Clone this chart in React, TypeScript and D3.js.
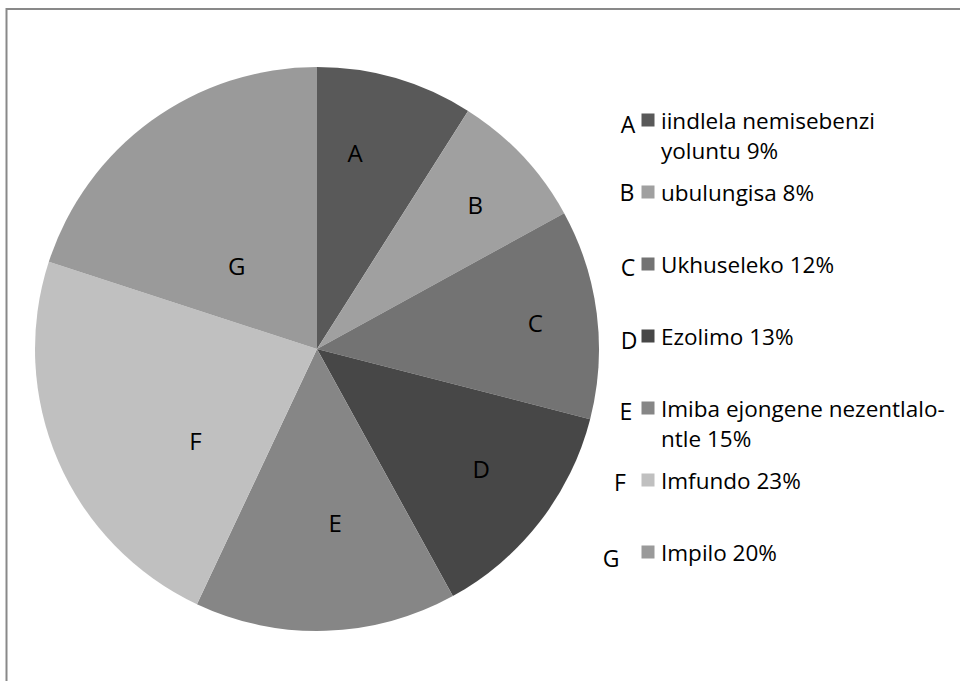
import React from "react";
import * as d3 from "d3";

const letters = ["A", "B", "C", "D", "E", "F", "G"];
const names = [
  ["iindlela nemisebenzi", "yoluntu 9%"],
  ["ubulungisa 8%"],
  ["Ukhuseleko 12%"],
  ["Ezolimo 13%"],
  ["Imiba ejongene nezentlalo-", "ntle 15%"],
  ["Imfundo 23%"],
  ["Impilo 20%"],
];
const values = [9, 8, 12, 13, 15, 23, 20];
const colors = ["#595959", "#a0a0a0", "#737373", "#474747", "#868686", "#c0c0c0", "#9a9a9a"];

// label placement (polar: degrees clockwise from 12 o'clock, radius fraction)
const labelPolar: [number, number][] = [
  [11, 0.71], [47.6, 0.76], [83, 0.78], [126, 0.72], [174, 0.62], [233, 0.54], [316, 0.41],
];
// legend letter centres relative to swatch centre (dx, dy)
const letterOffset: [number, number][] = [
  [-20, 4], [-21, 0], [-20, 3], [-19, 4], [-22, 3], [-28, 2], [-37, 6],
];

const W = 960, H = 681;
const cx = 317, cy = 349, R = 282;
const FONT = "'Open Sans', Lato, sans-serif";

export default function App() {
  const pie = d3.pie<number>().sort(null).value((d) => d);
  const arcs = pie(values);
  const arc = d3.arc<d3.PieArcDatum<number>>().innerRadius(0).outerRadius(R);

  const legendY = d3.scaleLinear().domain([0, 6]).range([120, 552]);
  const swX = 648;

  return (
    <svg width={W} height={H} style={{ position: "absolute", left: 0, top: 0 }} fontFamily={FONT}>
      <rect x={0} y={0} width={W} height={H} fill="#fff" />
      <rect x={6.5} y={9} width={W + 20} height={H + 20} fill="none" stroke="#898989" strokeWidth={2} />
      <g transform={`translate(${cx},${cy})`}>
        {arcs.map((a, i) => (
          <path key={i} d={arc(a) || ""} fill={colors[i]} />
        ))}
        {arcs.map((a, i) => {
          const [deg, rf] = labelPolar[i];
          const t = (deg * Math.PI) / 180;
          return (
            <text key={"l" + i} x={Math.sin(t) * rf * R} y={-Math.cos(t) * rf * R} textAnchor="middle" dominantBaseline="central" fontSize={24} fill="#000">
              {letters[i]}
            </text>
          );
        })}
      </g>
      <g>
        {names.map((lines, i) => {
          const y = legendY(i);
          return (
            <g key={i}>
              <rect x={swX - 6.5} y={y - 6.5} width={13} height={13} fill={colors[i]} />
              <text x={swX + letterOffset[i][0]} y={y + letterOffset[i][1]} textAnchor="middle" dominantBaseline="central" fontSize={23} fill="#000">
                {letters[i]}
              </text>
              {lines.map((ln, j) => (
                <text key={j} x={661} y={y + j * 30} dominantBaseline="central" fontSize={22.5} fill="#000">
                  {ln}
                </text>
              ))}
            </g>
          );
        })}
      </g>
    </svg>
  );
}
